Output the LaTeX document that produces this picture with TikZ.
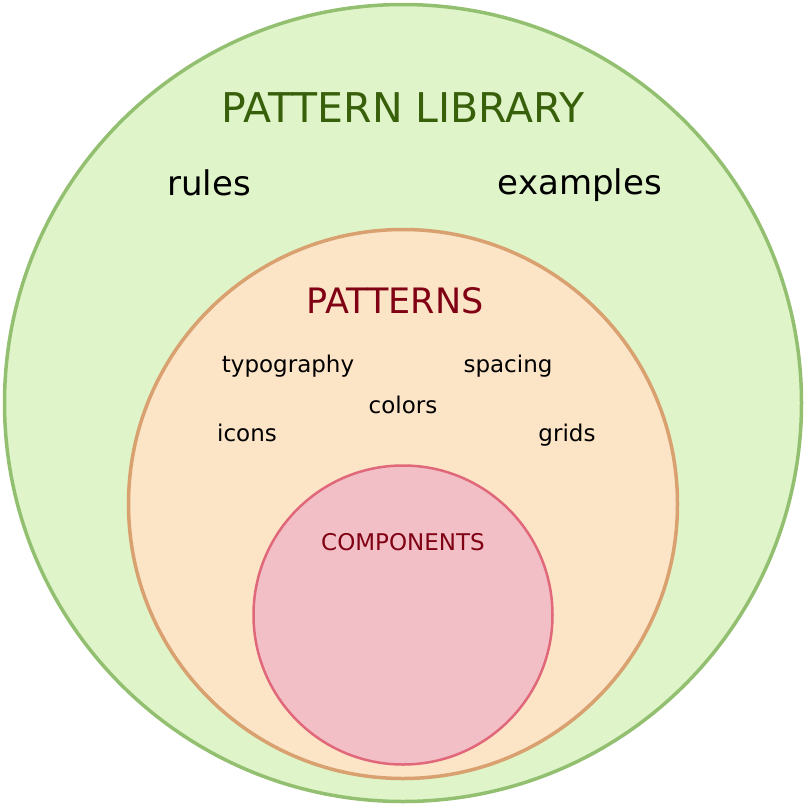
\documentclass[tikz,border=0pt]{standalone}
\usepackage{fontspec}
\setmainfont{DejaVu Sans}

\definecolor{libfill}{HTML}{DFF4C8}
\definecolor{libline}{HTML}{93C070}
\definecolor{libtext}{HTML}{38600A}
\definecolor{patfill}{HTML}{FCE4C7}
\definecolor{patline}{HTML}{D9A070}
\definecolor{comfill}{HTML}{F2BFC6}
\definecolor{comline}{HTML}{E0687A}
\definecolor{redtext}{HTML}{800014}

\tikzset{
  ring/.style={circle, inner sep=0pt, line width=3.5pt},
  label/.style={inner sep=0pt, anchor=base},
  item/.style={label, font=\fontsize{23}{23}\selectfont},
}

\begin{document}
\begin{tikzpicture}[x=1pt, y=-1pt]

  \useasboundingbox (0,0) rectangle (806,806);

  % Circles
  \node[ring, draw=libline, fill=libfill, minimum size=797pt] (lib) at (403,403) {};
  \node[ring, draw=patline, fill=patfill, minimum size=549pt] (pat) at (403,504) {};
  \node[ring, draw=comline, fill=comfill, minimum size=299pt, line width=2.5pt] (com) at (403,615) {};

  % Titles
  \node[label, text=libtext, font=\fontsize{41}{41}\selectfont] (libtitle) at (403,122) {PATTERN LIBRARY};
  \node[label, text=redtext, font=\fontsize{35}{35}\selectfont] (pattitle) at (395,313) {PATTERNS};
  \node[label, text=redtext, font=\fontsize{23}{23}\selectfont] (comtitle) at (403,550) {COMPONENTS};

  % Library contents
  \node[label, font=\fontsize{34}{34}\selectfont] (rules) at (209,195) {rules};
  \node[label, font=\fontsize{34}{34}\selectfont] (examples) at (580,194) {examples};

  % Pattern contents
  \node[item] (typography) at (288,372) {typography};
  \node[item] (spacing) at (508,372) {spacing};
  \node[item] (colors) at (403,413) {colors};
  \node[item] (icons) at (247,441) {icons};
  \node[item] (grids) at (567,441) {grids};

\end{tikzpicture}
\end{document}
